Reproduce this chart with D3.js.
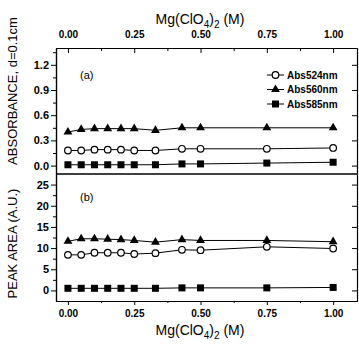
<!DOCTYPE html>
<html>
<head>
<meta charset="utf-8">
<script src="https://cdn.jsdelivr.net/npm/d3@7"></script>
<style>
  body { margin: 0; background: #fff; }
  svg { display: block; }
  text { font-family: "Liberation Sans", Arial, sans-serif; fill: #000; }
</style>
</head>
<body>
<div id="chart"></div>
<script>
// concentrations of Mg(ClO4)2 (M)
const conc = [0, 0.05, 0.10, 0.15, 0.20, 0.25, 0.33, 0.43, 0.50, 0.75, 1.00];

// panel (a): absorbance
const abs524 = [0.18, 0.18, 0.19, 0.19, 0.19, 0.18, 0.18, 0.20, 0.20, 0.20, 0.21];
const abs560 = [0.40, 0.43, 0.44, 0.44, 0.44, 0.44, 0.42, 0.45, 0.45, 0.45, 0.45];
const abs585 = [0.01, 0.01, 0.01, 0.01, 0.01, 0.01, 0.01, 0.02, 0.02, 0.03, 0.04];

// panel (b): peak area
const area524 = [8.4, 8.4, 8.9, 8.9, 8.9, 8.6, 8.8, 9.6, 9.5, 10.3, 9.9];
const area560 = [11.6, 12.2, 12.2, 12.1, 12.0, 11.8, 11.4, 12.0, 11.8, 11.8, 11.5];
const area585 = [0.5, 0.5, 0.5, 0.5, 0.5, 0.5, 0.5, 0.6, 0.6, 0.6, 0.7];

const xTicks = [0, 0.25, 0.5, 0.75, 1.0];
const absTicks = [0.0, 0.3, 0.6, 0.9, 1.2];
const areaTicks = [0, 5, 10, 15, 20, 25];
const legendNames = ['Abs524nm', 'Abs560nm', 'Abs585nm'];

const W = 359, H = 345;
const L = 56, R = 357, T = 48, MID = 174, B = 301;

const svg = d3.select('#chart').append('svg')
  .attr('width', W).attr('height', H);

const x = d3.scaleLinear().domain([-0.045, 1.09]).range([L, R]);
const yA = d3.scaleLinear().domain([-0.1, 1.4]).range([MID, T]);
const yB = d3.scaleLinear().domain([-2.5, 27.5]).range([B, MID]);

const fmt2 = d3.format('.2f');

// axes
function styleAxis(g) {
  g.selectAll('path').attr('stroke', '#000').attr('stroke-width', 1.2);
  g.selectAll('line').attr('stroke', '#000').attr('stroke-width', 1);
  g.selectAll('text').attr('font-size', 10).attr('font-weight', 'bold');
}

const minorX = [0.125, 0.375, 0.625, 0.875];

// bottom x
svg.append('g').attr('transform', `translate(0,${B})`)
  .call(d3.axisBottom(x).tickValues(xTicks).tickFormat(fmt2).tickSize(4).tickSizeOuter(0))
  .call(styleAxis)
  .call(g => g.selectAll('text').attr('dy', '0.9em'));
svg.append('g').attr('transform', `translate(0,${B})`)
  .call(d3.axisBottom(x).tickValues(minorX).tickFormat('').tickSize(2).tickSizeOuter(0))
  .call(styleAxis);

// top x
svg.append('g').attr('transform', `translate(0,${T})`)
  .call(d3.axisTop(x).tickValues(xTicks).tickFormat(fmt2).tickSize(-5).tickSizeOuter(0).tickPadding(10))
  .call(styleAxis);
svg.append('g').attr('transform', `translate(0,${T})`)
  .call(d3.axisTop(x).tickValues(minorX).tickFormat('').tickSize(-3).tickSizeOuter(0))
  .call(styleAxis);

// left y, panel a
svg.append('g').attr('transform', `translate(${L},0)`)
  .call(d3.axisLeft(yA).tickValues(absTicks).tickFormat(d3.format('.1f')).tickSize(5).tickSizeOuter(0).tickPadding(2))
  .call(styleAxis)
  .call(g => g.selectAll('text').attr('font-size', 11));
svg.append('g').attr('transform', `translate(${L},0)`)
  .call(d3.axisLeft(yA).tickValues([0.15, 0.45, 0.75, 1.05, 1.35]).tickFormat('').tickSize(3).tickSizeOuter(0))
  .call(styleAxis);

// left y, panel b
svg.append('g').attr('transform', `translate(${L},0)`)
  .call(d3.axisLeft(yB).tickValues(areaTicks).tickFormat(d3.format('d')).tickSize(5).tickSizeOuter(0).tickPadding(2))
  .call(styleAxis)
  .call(g => g.selectAll('text').attr('font-size', 11));
svg.append('g').attr('transform', `translate(${L},0)`)
  .call(d3.axisLeft(yB).tickValues([2.5, 7.5, 12.5, 17.5, 22.5]).tickFormat('').tickSize(3).tickSizeOuter(0))
  .call(styleAxis);

// right y (ticks inward)
svg.append('g').attr('transform', `translate(${R},0)`)
  .call(d3.axisRight(yA).tickValues(absTicks).tickFormat('').tickSize(-5).tickSizeOuter(0))
  .call(styleAxis);
svg.append('g').attr('transform', `translate(${R},0)`)
  .call(d3.axisRight(yB).tickValues(areaTicks).tickFormat('').tickSize(-5).tickSizeOuter(0))
  .call(styleAxis);

// panel separator
svg.append('line')
  .attr('x1', L).attr('x2', R).attr('y1', MID).attr('y2', MID)
  .attr('stroke', '#000').attr('stroke-width', 1.4);

// markers
function drawMarker(g, shape, cx, cy) {
  if (shape === 'circle') {
    g.append('circle').attr('cx', cx).attr('cy', cy).attr('r', 3.3)
      .attr('fill', '#fff').attr('stroke', '#000').attr('stroke-width', 1.2);
  } else if (shape === 'triangle') {
    g.append('path').attr('transform', `translate(${cx},${cy})`)
      .attr('d', d3.symbol(d3.symbolTriangle, 34)()).attr('fill', '#000');
  } else {
    g.append('rect').attr('x', cx - 3.5).attr('y', cy - 3.5)
      .attr('width', 7).attr('height', 7).attr('fill', '#000');
  }
}

function drawSeries(values, y, shape) {
  const g = svg.append('g');
  const line = d3.line().x((d, i) => x(conc[i])).y(d => y(d));
  g.append('path').datum(values).attr('d', line)
    .attr('fill', 'none').attr('stroke', '#000').attr('stroke-width', 1);
  values.forEach((v, i) => drawMarker(g, shape, x(conc[i]), y(v)));
}

drawSeries(abs585, yA, 'square');
drawSeries(abs524, yA, 'circle');
drawSeries(abs560, yA, 'triangle');
drawSeries(area585, yB, 'square');
drawSeries(area524, yB, 'circle');
drawSeries(area560, yB, 'triangle');

// legend
const shapes = ['circle', 'triangle', 'square'];
legendNames.forEach((name, i) => {
  const ly = 75 + i * 14.5;
  const g = svg.append('g');
  g.append('line').attr('x1', 267).attr('x2', 284).attr('y1', ly).attr('y2', ly)
    .attr('stroke', '#000').attr('stroke-width', 1);
  drawMarker(g, shapes[i], 275.5, ly);
  g.append('text').attr('x', 287).attr('y', ly).attr('dy', '0.35em')
    .attr('font-size', 10).attr('font-weight', 'bold').text(name);
});

// panel labels
svg.append('text').attr('x', 80).attr('y', 79).attr('font-size', 11).text('(a)');
svg.append('text').attr('x', 80).attr('y', 201).attr('font-size', 11).text('(b)');

// axis titles
function mgTitle(t) {
  t.attr('font-size', 14).attr('text-anchor', 'middle');
  t.append('tspan').text('Mg(ClO');
  t.append('tspan').attr('font-size', 10).attr('dy', 4).text('4');
  t.append('tspan').attr('dy', -4).text(')');
  t.append('tspan').attr('font-size', 10).attr('dy', 4).text('2');
  t.append('tspan').attr('dy', -4).text(' (M)');
}
svg.append('text').attr('x', 200).attr('y', 24).call(mgTitle);
svg.append('text').attr('x', 200).attr('y', 335).call(mgTitle);

svg.append('text')
  .attr('transform', `translate(17,${(T + MID) / 2 - 20}) rotate(-90)`)
  .attr('text-anchor', 'middle').attr('font-size', 13).text('ABSORBANCE, d=0.1cm');
svg.append('text')
  .attr('transform', `translate(17,${(MID + B) / 2 + 6}) rotate(-90)`)
  .attr('text-anchor', 'middle').attr('font-size', 13).text('PEAK AREA (A.U.)');
</script>
</body>
</html>
